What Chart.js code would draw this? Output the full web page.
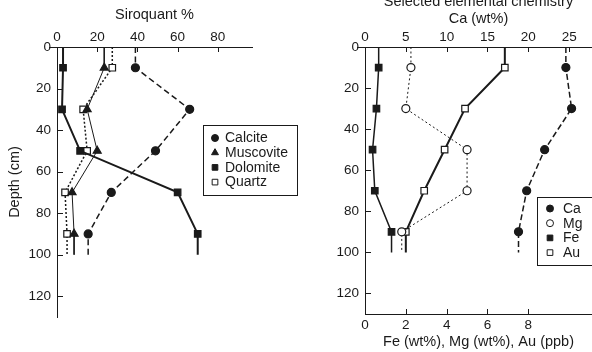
<!DOCTYPE html>
<html>
<head>
<meta charset="utf-8">
<script src="https://cdn.jsdelivr.net/npm/chart.js@4.4.1/dist/chart.umd.min.js"></script>
<style>
  html, body { margin: 0; padding: 0; background: #fff; }
  #wrap { position: relative; width: 592px; height: 352px; overflow: hidden; }
  #left { position: absolute; left: 0; top: 0; }
  #right { position: absolute; left: 300px; top: 0; }
</style>
</head>
<body>
<div id="wrap">
  <canvas id="left" width="300" height="352" style="width:300px;height:352px"></canvas>
  <canvas id="right" width="292" height="352" style="width:292px;height:352px"></canvas>
</div>
<script>
// sample depths (cm); the profile lines run on up to lineTop and down to lineBottom
var depths = [10, 30, 50, 70, 90];
var lineTop = 0;
var lineBottom = 100;
var depthTicks = [0, 20, 40, 60, 80, 100, 120];

// Siroquant mineralogy (%)
var siroTicks = [0, 20, 40, 60, 80];
var calcite   = [39, 66, 49, 27, 15.5];
var muscovite = [23.5, 15, 20, 7.5, 8.5];
var dolomite  = [3, 2.5, 11.5, 60, 70];
var quartz    = [27.5, 13, 15, 4, 5];

// elemental chemistry
var caTicks = [0, 5, 10, 15, 20, 25];
var feTicks = [0, 2, 4, 6, 8];
var ca = [24.6, 25.3, 22, 19.8, 18.8];   // wt%
var mg = [2.25, 2.0, 5.0, 5.0, 1.8];     // wt%
var fe = [0.67, 0.56, 0.37, 0.48, 1.3];  // wt%
var au = [6.85, 4.9, 3.9, 2.9, 2.0];     // ppb

var ink = '#1a1a1a';
Chart.defaults.font.family = "'Liberation Sans', Arial, sans-serif";
Chart.defaults.color = ink;

function profile(values) {
  var pts = [{x: values[0], y: lineTop}];
  depths.forEach(function(d, i) { pts.push({x: values[i], y: d}); });
  pts.push({x: values[values.length - 1], y: lineBottom});
  return pts;
}

function radii(r) {
  return [0].concat(depths.map(function() { return r; })).concat([0]);
}

function series(label, values, style, open, dash, width, axis) {
  return {
    label: label,
    data: profile(values),
    xAxisID: axis || 'x',
    showLine: true,
    tension: 0,
    borderColor: ink,
    borderWidth: width,
    borderDash: dash,
    pointStyle: style,
    pointRadius: radii(style === 'circle' ? 4 : 4.6),
    pointBackgroundColor: open ? '#fff' : ink,
    pointBorderColor: ink,
    pointBorderWidth: 1.2
  };
}

function fixTicks(list) {
  return function(scale) {
    scale.ticks = list.map(function(v) { return {value: v}; });
  };
}

// tick marks pointing into the plot, like the original figure
var innerTicks = {
  id: 'innerTicks',
  afterDraw: function(chart) {
    var ctx = chart.ctx, area = chart.chartArea;
    ctx.save();
    ctx.strokeStyle = ink;
    ctx.lineWidth = 1;
    Object.keys(chart.scales).forEach(function(id) {
      var s = chart.scales[id];
      s.ticks.forEach(function(t) {
        var p = Math.round(s.getPixelForValue(t.value)) + 0.5;
        ctx.beginPath();
        if (t.value === s.min) {
          if (s.position === 'left') {
            ctx.moveTo(area.left - 8, p);
            ctx.lineTo(area.left, p);
          }
        } else if (s.position === 'top') {
          ctx.moveTo(p, area.top);
          ctx.lineTo(p, area.top + 5);
        } else if (s.position === 'bottom') {
          ctx.moveTo(p, area.bottom);
          ctx.lineTo(p, area.bottom - 5);
        } else {
          ctx.moveTo(area.left, p);
          ctx.lineTo(area.left + 6, p);
        }
        ctx.stroke();
      });
    });
    ctx.restore();
  }
};

// framed legend placed where the figure has it
var boxLegend = {
  id: 'boxLegend',
  afterDraw: function(chart, args, o) {
    var ctx = chart.ctx;
    ctx.save();
    ctx.fillStyle = '#fff';
    ctx.fillRect(o.x, o.y, o.w, o.h);
    ctx.strokeStyle = ink;
    ctx.lineWidth = 1;
    ctx.strokeRect(o.x + 0.5, o.y + 0.5, o.w, o.h);
    ctx.font = "14px 'Liberation Sans', Arial, sans-serif";
    ctx.textBaseline = 'middle';
    chart.data.datasets.forEach(function(ds, i) {
      var cy = o.y + o.first + i * o.step;
      ctx.fillStyle = ds.pointBackgroundColor;
      ctx.strokeStyle = ink;
      ctx.lineWidth = 1;
      Chart.helpers.drawPoint(ctx, {
        pointStyle: ds.pointStyle,
        radius: ds.pointStyle === 'circle' ? 3.5 : 4,
        borderWidth: 1,
        rotation: 0
      }, o.x + o.mark, cy);
      ctx.fillStyle = ink;
      ctx.fillText(ds.label, o.x + o.text, cy + 0.5);
    });
    ctx.restore();
  }
};

var tickFont = {size: 13.5};
var titleFont = {size: 14.5, lineHeight: 1.2};

function depthAxis(width) {
  return {
    type: 'linear',
    position: 'left',
    reverse: true,
    min: 0,
    max: 130,
    afterBuildTicks: fixTicks(depthTicks),
    afterFit: function(s) { s.width = width; },
    grid: {display: false, drawTicks: false},
    border: {color: ink, width: 1},
    ticks: {padding: 6, font: tickFont}
  };
}

var leftY = depthAxis(57);
leftY.title = {display: true, text: 'Depth (cm)', font: titleFont, padding: {top: 6.3, bottom: 0}};

new Chart(document.getElementById('left'), {
  type: 'scatter',
  data: {
    datasets: [
      series('Calcite', calcite, 'circle', false, [6, 3.5], 1.5),
      series('Muscovite', muscovite, 'triangle', false, [], 1),
      series('Dolomite', dolomite, 'rect', false, [], 2),
      series('Quartz', quartz, 'rect', true, [2, 2], 1.5)
    ]
  },
  options: {
    responsive: false,
    animation: false,
    devicePixelRatio: 1,
    events: [],
    layout: {padding: {left: 0, top: 0, right: 48, bottom: 35}},
    scales: {
      x: {
        type: 'linear',
        position: 'top',
        min: 0,
        max: 97,
        afterBuildTicks: fixTicks(siroTicks),
        afterFit: function(s) { s.height = 47; },
        grid: {display: false, drawTicks: false},
        border: {color: ink, width: 1},
        ticks: {padding: 2, font: tickFont},
        title: {display: true, text: 'Siroquant %', font: titleFont, padding: {top: 6.3, bottom: 0}}
      },
      y: leftY
    },
    plugins: {
      legend: {display: false},
      tooltip: {enabled: false},
      boxLegend: {x: 203, y: 125, w: 94, h: 70, first: 13, step: 14.7, mark: 12, text: 22}
    }
  },
  plugins: [innerTicks, boxLegend]
});

new Chart(document.getElementById('right'), {
  type: 'scatter',
  data: {
    datasets: [
      series('Ca', ca, 'circle', false, [6, 3], 1.5, 'xt'),
      series('Mg', mg, 'circle', true, [2, 2.5], 1, 'xb'),
      series('Fe', fe, 'rect', false, [], 1.5, 'xb'),
      series('Au', au, 'rect', true, [], 2, 'xb')
    ]
  },
  options: {
    responsive: false,
    animation: false,
    devicePixelRatio: 1,
    events: [],
    layout: {padding: 0},
    scales: {
      xt: {
        type: 'linear',
        position: 'top',
        min: 0,
        max: 27.8,
        afterBuildTicks: fixTicks(caTicks),
        afterFit: function(s) { s.height = 47; },
        grid: {display: false, drawTicks: false},
        border: {color: ink, width: 1},
        ticks: {padding: 2, font: tickFont},
        title: {display: true, text: ['Selected elemental chemistry', 'Ca (wt%)'], font: titleFont, padding: {top: -6.7, bottom: 0}}
      },
      xb: {
        type: 'linear',
        position: 'bottom',
        min: 0,
        max: 11.12,
        afterBuildTicks: fixTicks(feTicks),
        afterFit: function(s) { s.height = 38; },
        grid: {display: false, drawTicks: false},
        border: {color: ink, width: 1},
        ticks: {padding: 3, font: tickFont},
        title: {display: true, text: 'Fe (wt%), Mg (wt%), Au (ppb)', font: titleFont, padding: {top: 0, bottom: 1.3}}
      },
      y: depthAxis(65)
    },
    plugins: {
      legend: {display: false},
      tooltip: {enabled: false},
      boxLegend: {x: 237, y: 197, w: 70, h: 68, first: 11.5, step: 14.7, mark: 13, text: 26}
    }
  },
  plugins: [innerTicks, boxLegend]
});
</script>
</body>
</html>
